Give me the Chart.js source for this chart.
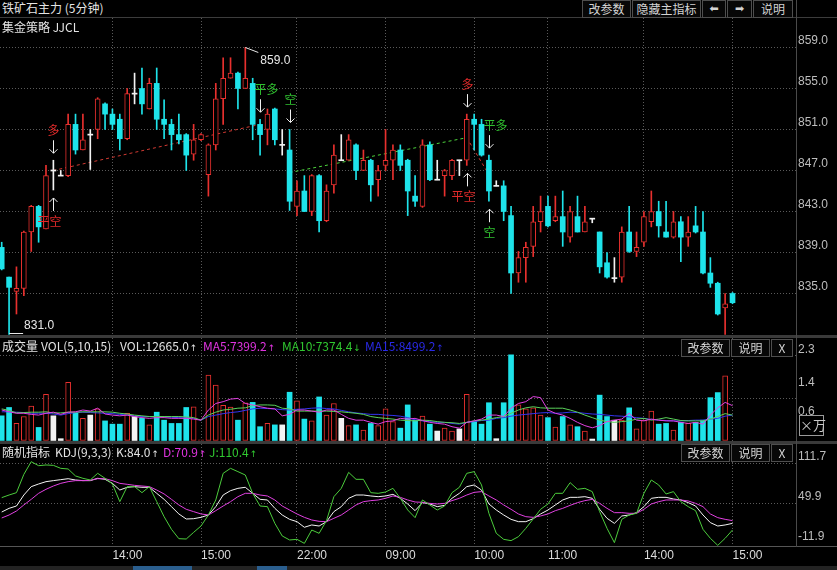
<!DOCTYPE html>
<html><head><meta charset="utf-8">
<script src="https://cdn.jsdelivr.net/npm/chart.js@4.4.1/dist/chart.umd.min.js"></script>
<style>
html,body{margin:0;padding:0;background:#000;}
#wrap{position:relative;width:837px;height:570px;overflow:hidden;background:#000;font-family:"Noto Sans CJK SC","Noto Sans",sans-serif;}
canvas{position:absolute;left:0;}
.t{position:absolute;white-space:nowrap;font-size:12px;line-height:14px;color:#e4e4e4;z-index:5;}
.a{font-family:"DejaVu Sans";font-size:9px;margin-left:1px;}
.b{position:absolute;height:18px;box-sizing:border-box;border:1px solid #4e4e4e;color:#d4d4d4;font-size:12px;line-height:16px;text-align:center;background:#070707;z-index:5;}
.sep{position:absolute;left:0;width:837px;background:#3a3a3a;z-index:4;}
</style></head><body><div id="wrap">
<canvas id="cMain" width="837" height="317" style="top:18px"></canvas>
<canvas id="cVol" width="837" height="103" style="top:338px"></canvas>
<canvas id="cKdj" width="837" height="126" style="top:444px"></canvas>

<div class="t" style="left:2px;top:1px">铁矿石主力 (5分钟)</div>
<div class="sep" style="top:17px;height:1px;background:#3c3c3c"></div>
<div class="b" style="left:582px;top:0;width:49px">改参数</div>
<div class="b" style="left:632px;top:0;width:69px">隐藏主指标</div>
<div class="b" style="left:702px;top:0;width:24px;font-family:'DejaVu Sans';font-size:11px">⬅</div>
<div class="b" style="left:727px;top:0;width:25px;font-family:'DejaVu Sans';font-size:11px">➡</div>
<div class="b" style="left:753px;top:0;width:40px">说明</div>
<div class="t" style="left:2px;top:20px">集金策略 JJCL</div>

<div class="sep" style="top:335px;height:3px"></div>
<div class="t" style="left:2px;top:339px">成交量</div>
<div class="t" style="left:41px;top:339px">VOL(5,10,15)</div>
<div class="t" style="left:120px;top:339px">VOL:12665.0<span class="a">↑</span></div>
<div class="t" style="left:203px;top:339px;color:#e034e0">MA5:7399.2<span class="a">↑</span></div>
<div class="t" style="left:282px;top:339px;color:#30c830">MA10:7374.4<span class="a">↓</span></div>
<div class="t" style="left:365px;top:339px;color:#2a2ae8">MA15:8499.2<span class="a">↑</span></div>
<div class="b" style="left:681px;top:339px;width:49px">改参数</div>
<div class="b" style="left:731px;top:339px;width:39px">说明</div>
<div class="b" style="left:771px;top:339px;width:22px">X</div>
<div class="t" style="left:799px;top:415px;width:25px;height:21px;box-sizing:border-box;border:1px solid #9a9a9a;color:#c8c8c8;font-size:13px;line-height:18px;text-align:center">×万</div>

<div class="sep" style="top:441px;height:3px"></div>
<div class="t" style="left:2px;top:445px">随机指标</div>
<div class="t" style="left:55px;top:445px">KDJ(9,3,3)</div>
<div class="t" style="left:116px;top:445px">K:84.0<span class="a">↑</span></div>
<div class="t" style="left:163px;top:445px;color:#e034e0">D:70.9<span class="a">↑</span></div>
<div class="t" style="left:209px;top:445px;color:#30c830">J:110.4<span class="a">↑</span></div>
<div class="b" style="left:681px;top:444px;width:49px">改参数</div>
<div class="b" style="left:731px;top:444px;width:39px">说明</div>
<div class="b" style="left:771px;top:444px;width:22px">X</div>
<div class="sep" style="top:546px;height:1px;background:#555"></div>

<div style="position:absolute;left:796px;top:0;width:1px;height:547px;background:#4a4a4a;z-index:4"></div>
<div style="position:absolute;left:0;top:566px;width:837px;height:4px;background:#232323;z-index:4"></div>
<div style="position:absolute;left:133px;top:566px;width:59px;height:4px;background:#2a5e8e;z-index:4"></div>
<div style="position:absolute;left:257px;top:566px;width:30px;height:4px;background:#2a5e8e;z-index:4"></div>
</div>
<script>
// ---------------- data ----------------
const open = [
839.5,836.6,835.2,835.5,841.0,843.5,841.3,847.0,846.5,846.5,
851.5,849.0,850.5,851.0,853.5,852.5,852.0,850.1,854.5,855.0,
853.0,855.5,852.0,851.5,850.5,850.5,848.6,850.0,846.6,849.5,
854.0,856.0,856.5,855.0,855.5,851.5,851.0,853.0,849.5,849.0,
843.5,845.0,843.0,846.5,842.1,845.6,848.0,848.0,849.5,847.0,
848.0,846.1,847.5,848.0,849.0,848.0,844.5,843.5,849.5,846.1,
846.5,846.5,848.0,848.0,852.0,851.5,848.0,845.5,845.5,842.6,
837.0,838.5,839.6,842.0,843.5,842.1,842.5,840.5,842.5,841.0,
842.3,841.0,838.0,836.5,836.6,841.0,839.1,840.0,842.0,843.0,
841.0,840.5,842.0,840.5,841.6,841.0,837.0,836.0,833.6,835.0];
const high = [
840.0,836.6,837.6,841.1,843.6,843.6,847.5,848.0,847.0,852.5,
852.5,852.5,851.0,854.1,853.6,853.0,852.5,855.0,856.5,857.0,
856.0,857.0,853.9,852.0,852.5,850.6,851.5,850.6,849.6,855.5,
858.0,858.0,856.6,859.0,856.0,852.0,853.0,853.1,851.0,851.0,
846.0,846.5,846.6,846.6,845.6,849.5,850.5,850.5,849.6,849.0,
848.1,847.5,851.0,849.5,849.5,848.1,846.5,850.0,849.8,848.0,
847.1,848.1,848.0,852.5,852.5,852.0,848.5,846.0,846.0,843.5,
839.1,840.0,843.5,844.5,844.5,844.5,845.0,843.5,844.5,843.5,
842.3,841.0,839.0,838.5,841.5,843.5,841.0,843.0,845.0,844.0,
844.0,843.0,842.5,842.5,843.5,843.0,838.5,836.1,835.0,835.1];
const low = [
837.3,831.0,833.0,834.8,839.1,840.0,841.3,845.1,846.5,846.4,
848.6,849.0,847.1,850.1,851.0,851.0,849.0,850.0,853.5,852.5,
853.0,851.0,850.1,849.0,849.6,847.0,848.0,849.9,844.5,849.0,
851.5,856.0,853.0,855.0,850.0,848.5,849.5,849.5,848.5,843.1,
842.6,843.0,842.6,841.0,842.0,844.8,848.0,848.0,846.1,847.0,
844.0,844.5,847.0,846.1,847.0,842.6,843.5,843.4,846.0,846.1,
844.5,846.1,846.5,847.5,849.0,848.4,844.0,845.5,842.1,835.0,
836.1,836.1,838.6,841.0,841.5,842.0,839.6,840.0,841.0,841.0,
841.9,837.0,836.5,836.1,836.1,839.0,838.6,839.6,841.5,840.5,
840.5,840.4,838.1,839.6,840.9,836.9,835.6,832.9,831.0,834.0];
const close = [
837.4,835.6,835.5,841.0,843.5,841.5,846.5,847.0,846.5,851.5,
849.0,850.0,850.5,854.0,852.5,851.5,850.1,854.5,854.5,853.5,
855.5,852.0,851.5,850.5,850.0,848.5,850.0,850.5,849.5,854.0,
856.0,856.5,855.0,856.0,851.5,850.5,852.5,850.0,849.5,844.0,
845.0,843.0,846.5,842.1,845.0,848.5,848.0,850.0,847.0,848.0,
845.6,847.0,848.0,849.0,847.5,845.0,844.0,849.5,846.1,846.1,
847.0,848.0,848.0,852.0,851.5,848.5,845.0,845.5,843.0,837.0,
838.5,839.5,842.0,843.0,841.6,842.5,841.0,843.0,841.0,842.0,
842.3,837.6,836.6,836.5,841.0,839.1,839.5,842.5,843.0,841.6,
840.5,842.0,840.5,841.0,841.0,837.0,836.0,833.0,834.0,834.1];
// volume in 万
const volume = [
0.68,0.91,0.47,0.66,0.95,0.36,1.27,0.68,0.05,1.60,
0.75,0.61,0.70,0.87,0.54,0.45,0.45,0.75,0.66,0.61,
0.43,0.78,0.56,0.47,0.47,0.91,0.93,0.02,1.80,1.53,
0.97,0.92,0.56,1.04,1.05,0.38,0.47,0.43,0.43,1.33,
1.09,0.59,0.54,1.20,0.70,1.02,0.61,0.41,0.43,0.29,
0.47,0.41,0.87,0.52,0.34,0.98,0.56,0.67,0.45,0.26,
0.34,0.26,0.32,1.27,0.52,0.45,1.04,0.05,1.04,2.36,
0.98,0.87,0.90,0.70,0.63,0.37,0.66,0.43,0.38,0.26,
0.04,1.25,0.66,0.56,0.56,0.90,0.32,0.56,0.81,0.45,
0.47,0.29,0.50,0.47,0.50,0.56,1.18,1.32,1.78,null];
const ma5 = [
0.84,0.79,0.75,0.75,0.72,0.70,0.75,0.78,0.72,0.78,
0.79,0.84,0.81,0.89,0.73,0.70,0.68,0.70,0.66,0.63,
0.61,0.63,0.63,0.61,0.61,0.61,0.59,0.56,0.84,1.02,
1.07,1.14,1.16,1.02,0.98,0.93,0.89,0.87,0.68,0.72,
0.84,0.84,0.81,0.78,0.84,0.84,0.72,0.61,0.56,0.56,
0.50,0.45,0.52,0.54,0.61,0.59,0.61,0.55,0.50,0.47,
0.45,0.38,0.34,0.50,0.54,0.59,0.70,0.70,0.66,0.89,
1.02,1.07,1.21,1.18,0.84,0.75,0.70,0.61,0.50,0.41,
0.35,0.41,0.52,0.56,0.59,0.75,0.56,0.54,0.59,0.56,
0.54,0.54,0.50,0.47,0.50,0.45,0.70,0.90,1.05,0.96];
const ma10 = [
0.87,0.83,0.76,0.77,0.78,0.78,0.79,0.76,0.76,0.78,
0.78,0.79,0.79,0.79,0.79,0.78,0.75,0.73,0.70,0.68,
0.66,0.66,0.66,0.66,0.66,0.65,0.63,0.56,0.70,0.78,
0.84,0.86,0.89,0.90,0.96,0.98,0.98,0.97,0.89,0.87,
0.81,0.81,0.81,0.81,0.81,0.80,0.79,0.77,0.75,0.72,
0.66,0.63,0.61,0.59,0.56,0.55,0.54,0.56,0.55,0.52,
0.50,0.49,0.47,0.50,0.54,0.56,0.59,0.63,0.66,0.75,
0.84,0.90,0.93,0.90,0.89,0.89,0.89,0.84,0.78,0.70,
0.63,0.56,0.52,0.50,0.52,0.54,0.59,0.61,0.56,0.59,
0.63,0.59,0.55,0.54,0.54,0.54,0.59,0.66,0.74,0.70];
const ma15 = [
0.79,0.79,0.78,0.77,0.75,0.75,0.75,0.73,0.70,0.74,
0.77,0.78,0.77,0.76,0.75,0.74,0.72,0.70,0.68,0.66,
0.66,0.66,0.65,0.64,0.63,0.62,0.61,0.56,0.66,0.70,
0.74,0.77,0.79,0.83,0.87,0.89,0.88,0.87,0.85,0.84,
0.86,0.87,0.89,0.90,0.88,0.87,0.83,0.79,0.76,0.74,
0.72,0.72,0.70,0.69,0.67,0.63,0.57,0.54,0.52,0.50,
0.50,0.47,0.45,0.50,0.52,0.55,0.56,0.61,0.63,0.67,
0.70,0.72,0.74,0.76,0.77,0.75,0.76,0.78,0.77,0.75,
0.73,0.72,0.70,0.68,0.67,0.65,0.63,0.61,0.58,0.56,
0.55,0.54,0.54,0.55,0.56,0.56,0.59,0.61,0.67,0.70];
const kdjK = [
37.5,43.2,46.8,63.8,76.7,80.8,84.4,86.0,87.5,89.0,
87.0,86.0,86.0,89.6,88.0,81.8,71.5,75.7,76.7,75.7,
75.7,66.4,57.1,45.8,34.5,26.7,27.2,29.3,32.9,45.8,
63.8,70.5,74.1,75.7,66.4,57.1,56.1,43.2,32.9,26.2,
22.6,13.9,17.5,15.9,22.6,38.1,45.8,58.7,63.8,63.8,
62.3,61.2,62.3,64.8,58.7,49.9,39.6,52.0,49.9,45.8,
47.8,58.7,66.4,76.7,79.3,71.5,49.9,40.6,32.9,26.2,
22.6,22.6,27.2,34.5,40.6,48.4,56.1,60.2,60.2,61.2,
58.7,41.7,27.8,20.0,31.4,32.9,36.5,45.8,58.7,60.2,
60.2,57.6,56.1,52.0,46.8,32.9,21.1,15.9,17.5,20.0];
const kdjD = [
28.3,32.9,39.1,48.4,57.1,66.4,72.6,77.7,81.8,84.4,
86.0,86.0,86.5,89.0,89.0,86.0,81.8,80.3,78.7,77.7,
76.7,71.5,65.4,57.1,48.4,41.7,38.1,34.5,32.9,39.6,
46.8,53.5,61.2,66.4,66.4,63.8,62.3,56.1,46.8,40.6,
34.5,29.3,25.2,23.1,22.6,27.8,32.9,40.6,48.4,53.5,
55.1,56.1,58.7,62.3,60.2,56.1,53.0,52.5,50.9,49.9,
50.9,55.1,58.7,63.8,67.9,69.0,62.3,56.1,48.4,41.7,
34.5,30.3,29.3,31.4,34.5,39.6,43.2,47.8,52.0,55.1,
57.1,50.9,43.2,36.5,36.5,35.5,35.5,41.7,49.9,53.5,
56.1,56.1,56.1,54.6,50.9,45.8,34.5,28.8,26.2,24.2];
const kdjJ = [
59.7,63.8,67.4,95.7,115.3,109.1,110.2,109.6,105.0,104.0,
93.2,89.6,87.0,97.3,89.6,80.8,53.5,76.7,76.7,67.4,
76.7,53.5,30.3,10.8,-3.7,-4.2,6.1,15.9,32.9,56.1,
97.3,105.0,99.9,94.7,66.4,46.8,45.8,20.0,0.5,-5.7,
-4.7,-10.9,9.7,4.6,24.2,61.2,74.1,98.8,88.0,88.0,
67.4,66.4,68.4,74.1,58.7,40.6,28.8,56.1,48.4,40.6,
46.8,67.4,75.7,97.3,99.9,79.3,35.5,4.6,-4.7,-6.7,
-0.6,12.3,26.7,41.7,49.9,66.4,66.4,82.9,72.6,74.1,
69.0,38.1,12.3,-9.8,26.2,32.9,35.5,66.4,87.0,79.3,
65.4,69.0,53.5,45.8,39.6,10.8,-3.1,-14.0,-3.1,9.7];
const timeIdx = [15,27,40,52,64,74,87,99];
const timeLabels = ['14:00','15:00','22:00','09:00','10:00','11:00','14:00','15:00'];
const priceTicks = [835,839,843,847,851,855,859];
const volTicks = [0.6,1.4,2.3];
const volGrid = [1.165,2.33];
const kdjTicks = [-11.9,49.9,111.7];
const kdjGrid = [49.9,111.7];
const sigIdx  = [7,7,35,39,63,63,66,66];
const sigText = ['多','平空','平多','空','多','平空','平多','空'];
const sigPos  = ['top','bottom','top','top','top','bottom','top','bottom'];
const tradeIdx = [[7,35],[39,63],[63,66]];
const tradePx  = [[847.0,851.5],[846.8,850.2],[850.2,846.6]];
const tradeSide = ['long','short','long'];

// ---------------- styles ----------------
const RED='#e8302e', CYAN='#1ee3ea', WHITE='#f2f2f2', GRID='#5a5a5a';
const SIG_RED='#e02a2a', SIG_GREEN='#30c030';
const X_MIN=-0.23, X_MAX=107.6;
const AXFONT={family:'"Liberation Sans", Arial, sans-serif', size:12};
Chart.defaults.font.family='"Liberation Sans", Arial, sans-serif';

const kind = i => close[i]>open[i]?'up':(close[i]<open[i]?'dn':'eq');
const fillOf = i => ({up:'#000000', dn:CYAN, eq:WHITE})[kind(i)];
const lineOf = i => ({up:RED, dn:CYAN, eq:WHITE})[kind(i)];
const idx = close.map((_,i)=>i);

function xScale(showLabels){
  return {
    type:'linear', min:X_MIN, max:X_MAX, position:'bottom', offset:false,
    afterBuildTicks: s => { s.ticks = timeIdx.map(v=>({value:v})); },
    afterFit: s => { s.height = showLabels?24:0; s.paddingLeft=0; s.paddingRight=0; },
    ticks:{display:showLabels, autoSkip:false, maxRotation:0, minRotation:0, align:'start', padding:2,
      color:'#dcdcdc', font:AXFONT, callback:(v,k)=>timeLabels[k]},
    grid:{color:GRID, drawTicks:false, offset:false, lineWidth:1},
    border:{display:false, dash:[1,2]}
  };
}
function yScale(min,max,ticks,labels,grids){
  return {
    type:'linear', position:'right', min, max, beginAtZero:false,
    afterBuildTicks: s => { s.ticks = ticks.map(v=>({value:v})); },
    afterFit: s => { s.width = 41; s.paddingTop=0; s.paddingBottom=0; },
    ticks:{autoSkip:false, padding:2, labelOffset:-7, color:'#bdbdbd', font:AXFONT,
      callback:(v)=> labels.includes(v) ? v.toFixed(1) : ''},
    grid:{drawTicks:false, lineWidth:1, color: c => (c.tick && grids.includes(c.tick.value)) ? GRID : 'rgba(0,0,0,0)'},
    border:{display:false, dash:[1,2]}
  };
}
const baseOpts = {
  responsive:false, maintainAspectRatio:false, animation:false,
  layout:{padding:0, autoPadding:false},
  plugins:{legend:{display:false}, tooltip:{enabled:false}},
  events:[]
};

// ---------------- main annotations ----------------
const annoPlugin = {
  id:'anno',
  afterDatasetsDraw(chart){
    const ctx = chart.ctx, xs = chart.scales.x, ys = chart.scales.y;
    ctx.save();
    ctx.strokeStyle = '#e8e8e8'; ctx.fillStyle = '#e8e8e8'; ctx.lineWidth = 1;
    ctx.font = '12px "Liberation Sans", Arial'; ctx.textBaseline = 'middle'; ctx.textAlign = 'left';
    const hi = Math.max(...high), hiI = high.indexOf(hi);
    let px = xs.getPixelForValue(hiI), py = ys.getPixelForValue(hi);
    ctx.beginPath(); ctx.moveTo(px, py); ctx.lineTo(px+13, py+5); ctx.stroke();
    ctx.fillText(hi.toFixed(1), px+15, py+13);
    const lo = Math.min(...low), loI = low.indexOf(lo);
    px = xs.getPixelForValue(loI); py = Math.round(ys.getPixelForValue(lo))-0.5;
    ctx.beginPath(); ctx.moveTo(px, py); ctx.lineTo(px+14, py); ctx.stroke();
    ctx.fillText(lo.toFixed(1), px+15, py-8);
    // signals
    ctx.font = '12px "Noto Sans CJK SC"'; ctx.textAlign = 'center';
    sigIdx.forEach((i,k)=>{
      const x = Math.round(xs.getPixelForValue(i))+0.5;
      const txt = sigText[k];
      const col = (txt==='多'||txt==='平空') ? SIG_RED : SIG_GREEN;
      const dx = txt==='平多' ? 6 : (txt==='平空' ? -4 : 0);
      let tip, tail, ty, dir;
      if (sigPos[k]==='top'){ tip = ys.getPixelForValue(high[i]) - 7; tail = tip - 13; ty = tail - 10; dir = 1; }
      else { tip = ys.getPixelForValue(low[i]) + 8; tail = tip + 13; ty = tail + 10; dir = -1; }
      ctx.strokeStyle = '#f0f0f0';
      ctx.beginPath(); ctx.moveTo(x, tail); ctx.lineTo(x, tip);
      ctx.moveTo(x-4, tip-4*dir); ctx.lineTo(x, tip); ctx.lineTo(x+4, tip-4*dir); ctx.stroke();
      ctx.fillStyle = col; ctx.fillText(txt, x+dx, ty);
    });
    ctx.restore();
  }
};

// ---------------- main chart ----------------
const wickData = idx.map(i=>({x:i, y:[low[i], high[i]]}));
const bodyData = idx.map(i=>{ let a=Math.min(open[i],close[i]), b=Math.max(open[i],close[i]); if (b-a<0.05){a-=0.05;b+=0.05;} return {x:i, y:[a,b]}; });
const tradeSets = tradeIdx.map((pair,k)=>({
  type:'line', order:3,
  data: pair.map((ix,j)=>({x:ix, y:tradePx[k][j]})),
  borderColor: tradeSide[k]==='long' ? '#d23a32' : '#4cd23c',
  borderWidth:1, borderDash:[3,3], pointRadius:0, tension:0
}));
new Chart(document.getElementById('cMain'), {
  type:'bar',
  data:{datasets:[
    {label:'body', data:bodyData, order:1, grouped:false, barThickness:5,
     backgroundColor: idx.map(fillOf), borderColor: idx.map(lineOf),
     borderWidth: idx.map(i=>kind(i)==='up'?1:0), borderSkipped:false},
    {label:'wick', data:wickData, order:2, grouped:false, barThickness:1,
     backgroundColor: idx.map(lineOf), borderWidth:0},
    ...tradeSets
  ]},
  options:Object.assign({}, baseOpts, {
    scales:{ x:xScale(false), y:yScale(830.951, 861.878, priceTicks, priceTicks, priceTicks) }
  }),
  plugins:[annoPlugin]
});

// ---------------- volume chart ----------------
const maLine = (arr,col)=>({type:'line', order:0, data: idx.map(i=>({x:i,y:arr[i]})),
  borderColor:col, borderWidth:1, pointRadius:0, tension:0});
new Chart(document.getElementById('cVol'), {
  type:'bar',
  data:{datasets:[
    {label:'vol', data: idx.map(i=>({x:i, y:volume[i]})), order:1, grouped:false, barThickness:5,
     backgroundColor: idx.map(fillOf), borderColor: idx.map(lineOf),
     borderWidth: idx.map(i=>kind(i)==='up'?1:0), borderSkipped:false},
    maLine(ma5,'#e040e0'), maLine(ma10,'#5ad25a'), maLine(ma15,'#3434f0')
  ]},
  options:Object.assign({}, baseOpts, {
    scales:{ x:xScale(false), y:yScale(-0.0138, 2.8237, [...volTicks, ...volGrid].sort((a,b)=>a-b), volTicks, volGrid) }
  })
});

// ---------------- KDJ chart ----------------
new Chart(document.getElementById('cKdj'), {
  type:'line',
  data:{datasets:[
    {label:'J', data: idx.map(i=>({x:i,y:kdjJ[i]})), borderColor:'#4ccc3c', borderWidth:1, pointRadius:0, tension:0},
    {label:'D', data: idx.map(i=>({x:i,y:kdjD[i]})), borderColor:'#e040e0', borderWidth:1, pointRadius:0, tension:0},
    {label:'K', data: idx.map(i=>({x:i,y:kdjK[i]})), borderColor:'#f4f4f4', borderWidth:1, pointRadius:0, tension:0}
  ]},
  options:Object.assign({}, baseOpts, {
    scales:{ x:xScale(true), y:yScale(-15.0, 142.6, kdjTicks, kdjTicks, kdjGrid) }
  })
});
</script>
</body></html>
